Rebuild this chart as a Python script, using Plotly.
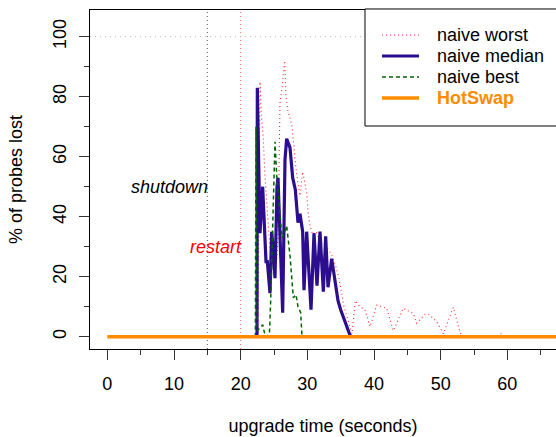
import plotly.graph_objects as go

# ---- data ----
worst_t = [22.6, 22.9, 23.1, 23.4, 23.6, 23.9, 24.2, 24.5, 25.0, 25.4, 25.6, 25.9, 26.2, 26.6,
           26.8, 27.1, 27.4, 27.7, 28.0, 28.3, 28.6, 28.9, 29.3, 29.6, 29.9, 30.1, 30.4, 30.8,
           31.3, 31.7, 32.2, 32.7, 33.2, 33.7, 34.2, 34.7, 35.1, 35.5, 35.9, 36.3, 36.7, 37.2,
           37.9, 38.65, 39.4, 40.4, 41.9, 42.9, 44.4, 45.9, 46.4, 47.65, 48.2, 49.4, 50.4, 51.9,
           52.9, 53.3, 58.7, 58.9, 59.2, 59.4]
worst_loss = [0, 85, 74, 66, 55, 44, 35, 28, 26, 25, 33, 78, 83, 92,
              80, 75, 73, 70, 62, 56, 51, 47, 55, 52, 48, 42, 37, 34,
              35, 33, 31, 30, 29, 27, 24, 20, 15, 10, 7, 4, 1, 12,
              10, 9, 3.3, 10.5, 9.5, 2, 9.5, 7.7, 4.5, 7.5, 7.5, 5, 1, 9.8,
              1.5, 0, 0, 1, 1, 0]

median_t = [22.45, 22.5, 22.9, 23.3, 23.8, 24.0, 24.4, 24.65, 24.85, 25.15, 25.45, 25.6, 26.3,
            26.65, 26.9, 27.4, 27.8, 28.2, 28.6, 28.9, 29.3, 29.5, 29.9, 30.55, 31.0, 31.45,
            31.9, 32.4, 32.75, 33.1, 33.65, 33.85, 34.2, 34.6, 35.0, 35.4, 35.8, 36.1, 36.4, 36.7]
median_loss = [0, 83, 34.5, 50, 25, 25, 14.5, 35, 30, 19.5, 50, 53, 8,
               59, 66, 63, 53, 49, 38, 41, 35, 15.5, 35, 9, 34.5, 17,
               35, 15, 33.5, 16.5, 26, 23, 18, 12, 9, 6.5, 4, 2, 0.5, 0]

best_t = [22.2, 22.3, 22.5, 22.9, 23.3, 23.6, 24.3, 24.5, 24.8, 25.15, 25.4, 25.8, 26.2, 26.6,
          26.9, 27.4, 27.9, 28.3, 28.6, 29.0, 29.2]
best_loss = [0, 70, 2, 3, 4, 1, 0, 12, 40, 65, 54, 42, 33, 35,
             37, 27, 13, 14, 10, 8, 0]

hotswap_t = [0, 70]
hotswap_loss = [0, 0]

shutdown_t = 15
restart_t = 20

x_ticks = [0, 10, 20, 30, 40, 50, 60]
y_ticks = [0, 20, 40, 60, 80, 100]

series_names = ["naive worst", "naive median", "naive best", "HotSwap"]

FONT = "Liberation Sans, Arial, Helvetica, sans-serif"

styles = [
    dict(color="rgba(255,0,0,0.85)", width=1.1, dash="1px,3px"),
    dict(color="#2C0D8E", width=3.2),
    dict(color="#006400", width=1.5, dash="4px,3px"),
    dict(color="#FF8C00", width=3.5),
]
label_colors = ["black", "black", "black", "#FF8C00"]

fig = go.Figure()
for name, xs, ys, st in zip(series_names,
                            [worst_t, median_t, best_t, hotswap_t],
                            [worst_loss, median_loss, best_loss, hotswap_loss],
                            styles):
    fig.add_trace(go.Scatter(x=xs, y=ys, mode="lines", name=name, line=st, showlegend=False))

# reference lines
fig.add_shape(type="line", xref="x", yref="y domain", x0=shutdown_t, x1=shutdown_t, y0=0, y1=1,
              line=dict(color="#555555", width=1, dash="1px,3px"), layer="below")
fig.add_shape(type="line", xref="x", yref="y domain", x0=restart_t, x1=restart_t, y0=0, y1=1,
              line=dict(color="rgba(255,0,0,0.6)", width=1, dash="1px,3px"), layer="below")
fig.add_shape(type="line", xref="x domain", yref="y", x0=0, x1=1, y0=100, y1=100,
              line=dict(color="#BBBBBB", width=1, dash="1px,4px"), layer="below")

# legend frame + entries (drawn in paper space)
fig.add_shape(type="rect", xref="paper", yref="paper", x0=0.5901, x1=1.06, y0=0.6578, y1=1.003,
              line=dict(color="black", width=1), fillcolor="white", layer="above")
leg_y = [0.9263, 0.8643, 0.8024, 0.7404]
for name, st, col, ly in zip(series_names, styles, label_colors, leg_y):
    fig.add_shape(type="line", xref="paper", yref="paper", x0=0.6266, x1=0.7060, y0=ly, y1=ly,
                  line=st, layer="above")
    txt = f"<b>{name}</b>" if name == "HotSwap" else name
    fig.add_annotation(xref="paper", yref="paper", x=0.7403, y=ly, text=txt, showarrow=False,
                       xanchor="left", yanchor="middle",
                       font=dict(family=FONT, size=18, color=col))

fig.add_annotation(x=shutdown_t, y=50, text="<i>shutdown</i>", showarrow=False, xanchor="right",
                   yanchor="middle", xshift=3, font=dict(family=FONT, size=18, color="black"))
fig.add_annotation(x=restart_t, y=30, text="<i>restart</i>", showarrow=False, xanchor="right",
                   yanchor="middle", xshift=3, font=dict(family=FONT, size=18, color="red"))

fig.update_layout(
    width=556, height=437,
    margin=dict(l=90, r=0, t=10, b=88),
    paper_bgcolor="white", plot_bgcolor="white",
    font=dict(family=FONT, size=18, color="black"),
    showlegend=False,
    xaxis=dict(range=[-2.6, 67.3], tickvals=x_ticks, showgrid=False, zeroline=False,
               automargin=False,
               showline=True, linecolor="black", linewidth=1, mirror=True,
               ticks="outside", ticklen=10, tickcolor="#333", tickwidth=1,
               minor=dict(dtick=5, tick0=0, ticks="outside", ticklen=5, tickcolor="#333"),
               ticklabelstandoff=8,
               title=dict(text="upgrade time (seconds)", standoff=26,
                          font=dict(family=FONT, size=18))),
    yaxis=dict(range=[-4.1, 108.9], tickvals=y_ticks, showgrid=False, zeroline=False,
               automargin=False,
               showline=True, linecolor="black", linewidth=1,
               ticks="outside", ticklen=10, tickcolor="#333", tickwidth=1, tickangle=-90,
               minor=dict(dtick=10, tick0=0, ticks="outside", ticklen=5, tickcolor="#333"),
               ticklabelstandoff=6,
               title=dict(text="% of probes lost", standoff=22,
                          font=dict(family=FONT, size=18))),
)

fig.write_html("out.html", config={"displayModeBar": False},
               post_script="document.body.style.margin='0';document.body.style.overflow='hidden';")
